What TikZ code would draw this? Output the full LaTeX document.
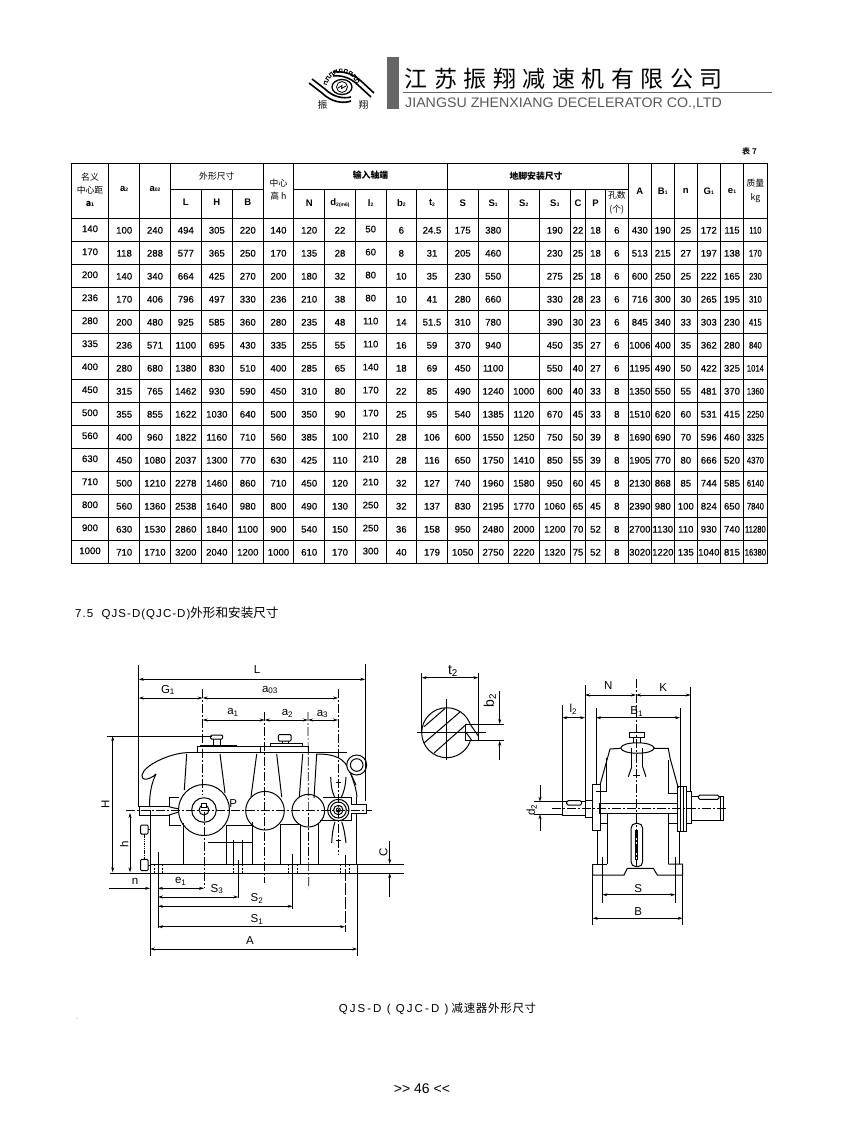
\documentclass[tikz,border=0pt]{standalone}
\usepackage{fontspec}
\setmainfont{Liberation Sans}
\newfontfamily\cjk{Noto Sans CJK SC}
\newfontfamily\cjkb{Noto Sans CJK SC Bold}
\newfontfamily\cellsf[FakeBold=0.35]{Liberation Sans}
\newfontfamily\widesf[LetterSpace=9]{Liberation Sans}
\newfontfamily\capsf[LetterSpace=18]{Liberation Sans}
\newfontfamily\widecjk[LetterSpace=6]{Noto Sans CJK SC}
\usetikzlibrary{arrows.meta}
\tikzset{
    cell/.style={inner sep=0pt,font=\cellsf\fontsize{9.6}{10}\selectfont},
    col1/.style={yshift=1.5pt},
    col10/.style={yshift=1.2pt},
    col25/.style={xscale=.8},
    head/.style={inner sep=0pt,align=center,font=\fontsize{9.5}{12}\selectfont},
    chead/.style={inner sep=0pt,align=center,font=\cjk\fontsize{8.8}{13.5}\selectfont},
    part/.style={line width=1pt},
    thin/.style={line width=.7pt},
    center/.style={line width=.7pt,dash pattern=on 9pt off 2pt on 2pt off 2pt},
    dim/.style={line width=.7pt,{Stealth[length=5pt,width=3pt]}-{Stealth[length=5pt,width=3pt]}},
    dimto/.style={line width=.7pt,-{Stealth[length=5pt,width=3pt]}},
    label/.style={inner sep=0pt,font=\fontsize{11.5}{12}\selectfont},
}
\newcommand{\sub}[1]{\raisebox{-.5pt}{\fontsize{5}{5}\selectfont #1}}
\begin{document}
\begin{tikzpicture}[x=1pt,y=-1pt]
    \useasboundingbox[fill=white] (0,0) rectangle (846,1146);

    % letterhead
    \fill[black!60] (386.7,56.7) rectangle (398.7,109);
    \draw[black!60,line width=1.3pt] (403,92.7) -- (771.7,92.7);
    \foreach \ch [count=\i] in {江,苏,振,翔,减,速,机,有,限,公,司}
        \node[inner sep=0pt,font=\cjk\fontsize{23}{24}\selectfont] (title\i) at (416+\i*29.5-29.5,79) {\ch};
    \node[inner sep=0pt,anchor=west,text=black!65,xscale=1.03,font=\fontsize{13.8}{14}\selectfont] (subtitle) at (405,103.5) {JIANGSU ZHENXIANG DECELERATOR CO.,LTD};
    % logo
    \foreach \a in {-170,-152,...,-10}
        \draw[line width=.8pt] ([shift={(\a:15)}]341.7,87) -- ([shift={(\a:18)}]341.7,87) -- ([shift={(\a+9:18)}]341.7,87) -- ([shift={(\a+9:15)}]341.7,87) -- ([shift={(\a+18:15)}]341.7,87);
    \draw[line width=1.3pt] (342,87) ellipse (10 and 7.5);
    \draw[line width=.8pt] (342,87) circle (5.5);
    \draw[line width=.8pt] (338,88) -- (342,85.5) -- (341.5,88.5) -- (346,86);
    \draw[line width=1.6pt] (312,79) -- (325,89) .. controls (333,97) and (343,99) .. (351,97);
    \draw[line width=1.6pt] (309,83) -- (322,93) .. controls (331,102) and (343,104) .. (351,101);
    \draw[line width=1.6pt] (371,97) -- (358,85) .. controls (350,77) and (340,75) .. (333,76);
    \draw[line width=1.6pt] (374,93) -- (361,81) .. controls (353,73) and (341,71) .. (333,72);
    \node[inner sep=0pt,font=\cjk\fontsize{9.5}{10}\selectfont] (logoA) at (322.5,105) {振};
    \node[inner sep=0pt,font=\cjk\fontsize{9.5}{10}\selectfont] (logoB) at (363.5,105) {翔};
    \node[inner sep=0pt,font=\cjkb\fontsize{8}{8}\selectfont] (tabnr) at (749.5,151.5) {表 7};

    % table grid
    \foreach \y in {163.3,218.3,241.3,264.3,...,563.3}
        \draw[line width=1pt] (71,\y) -- (767.5,\y);
    \draw[line width=1pt] (170.3,189) -- (263.3,189);
    \draw[line width=1pt] (293.7,189) -- (628.3,189);
    \foreach \x in {71,108.7,139.7,170.3,263.3,293.7,447.3,628.3,651.3,674.3,697.3,720.3,743.7,767.5}
        \draw[line width=1pt] (\x,163.3) -- (\x,563.3);
    \foreach \x in {201.3,232.3,324.7,355.3,386,416.7,478,508.3,539.3,570.3,585.7,605.3}
        \draw[line width=1pt] (\x,189) -- (\x,563.3);

    % table columns
    \foreach \x [count=\c] in {90,124.2,155,185.8,216.8,247.8,278.5,309.2,340,370.7,401.3,432,462.7,493.2,523.8,554.8,578,595.5,616.8,639.8,662.8,685.8,708.8,732,755.4}
        \coordinate (col\c) at (\x,0);

    % table head
    \node[chead] (hA) at (90,190) {名义\\中心距\\[-1pt]\textbf{a\sub{1}}};
    \node[head] (hB) at (124.2,189) {\textbf{a\sub{2}}};
    \node[head] (hC) at (155,189) {\textbf{a\sub{02}}};
    \node[chead] (hD) at (216.8,176) {外形尺寸};
    \node[head] (hE) at (185.8,202) {\textbf{L}};
    \node[head] (hF) at (216.8,202) {\textbf{H}};
    \node[head] (hG) at (247.8,202) {\textbf{B}};
    \node[chead] (hH) at (278.5,189.5) {中心\\高 h};
    \node[chead] (hI) at (370.5,175.5) {\textbf{输入轴端}};
    \node[head] (hJ) at (309.2,203) {\textbf{N}};
    \node[head] (hK) at (340,203) {\textbf{d\sub{2(m6)}}};
    \node[head] (hL) at (370.7,203) {\textbf{l\sub{2}}};
    \node[head] (hM) at (401.3,203) {\textbf{b\sub{2}}};
    \node[head] (hN) at (432,203) {\textbf{t\sub{2}}};
    \node[chead] (hO) at (536,176) {\textbf{地脚安装尺寸}};
    \node[head] (hP) at (462.7,203) {\textbf{S}};
    \node[head] (hQ) at (493.2,203) {\textbf{S\sub{1}}};
    \node[head] (hR) at (523.8,203) {\textbf{S\sub{2}}};
    \node[head] (hS) at (554.8,203) {\textbf{S\sub{3}}};
    \node[head] (hT) at (578,203) {\textbf{C}};
    \node[head] (hU) at (595.5,203) {\textbf{P}};
    \node[chead] (hV) at (616.8,202.5) {孔数\\(个)};
    \node[head] (hW) at (639.8,191) {\textbf{A}};
    \node[head] (hX) at (662.8,191) {\textbf{B\sub{1}}};
    \node[head] (hY) at (685.8,191) {\textbf{n}};
    \node[head] (hZ) at (708.8,191) {\textbf{G\sub{1}}};
    \node[head] (hAA) at (732,191) {\textbf{e\sub{1}}};
    \node[chead] (hAB) at (755.4,191) {质量\\kg};

    % table body
    \foreach \row [count=\r] in {
        {140,100,240,494,305,220,140,120,22,50,6,24.5,175,380,,190,22,18,6,430,190,25,172,115,110},
        {170,118,288,577,365,250,170,135,28,60,8,31,205,460,,230,25,18,6,513,215,27,197,138,170},
        {200,140,340,664,425,270,200,180,32,80,10,35,230,550,,275,25,18,6,600,250,25,222,165,230},
        {236,170,406,796,497,330,236,210,38,80,10,41,280,660,,330,28,23,6,716,300,30,265,195,310},
        {280,200,480,925,585,360,280,235,48,110,14,51.5,310,780,,390,30,23,6,845,340,33,303,230,415},
        {335,236,571,1100,695,430,335,255,55,110,16,59,370,940,,450,35,27,6,1006,400,35,362,280,840},
        {400,280,680,1380,830,510,400,285,65,140,18,69,450,1100,,550,40,27,6,1195,490,50,422,325,1014},
        {450,315,765,1462,930,590,450,310,80,170,22,85,490,1240,1000,600,40,33,8,1350,550,55,481,370,1360},
        {500,355,855,1622,1030,640,500,350,90,170,25,95,540,1385,1120,670,45,33,8,1510,620,60,531,415,2250},
        {560,400,960,1822,1160,710,560,385,100,210,28,106,600,1550,1250,750,50,39,8,1690,690,70,596,460,3325},
        {630,450,1080,2037,1300,770,630,425,110,210,28,116,650,1750,1410,850,55,39,8,1905,770,80,666,520,4370},
        {710,500,1210,2278,1460,860,710,450,120,210,32,127,740,1960,1580,950,60,45,8,2130,868,85,744,585,6140},
        {800,560,1360,2538,1640,980,800,490,130,250,32,137,830,2195,1770,1060,65,45,8,2390,980,100,824,650,7840},
        {900,630,1530,2860,1840,1100,900,540,150,250,36,158,950,2480,2000,1200,70,52,8,2700,1130,110,930,740,11280},
        {1000,710,1710,3200,2040,1200,1000,610,170,300,40,179,1050,2750,2220,1320,75,52,8,3020,1220,135,1040,815,16380}}
        \foreach \val [count=\c] in \row
            \node[cell,col\c/.try] (cell\r-\c) at (col\c |- 0,207.3+\r*23) {\val};

    \node[inner sep=0pt,anchor=west,font=\fontsize{11.5}{13}\selectfont] (secttl) at (75,613) {{\widesf 7.5\ \ QJS-D(QJC-D)}{\cjk\fontsize{12.6}{13}\selectfont 外形和安装尺寸}};

    % front view, housing
    \draw[part] (197.3,752.7) -- (197.3,746.7) -- (308,746.7) -- (308,752.7);
    \draw[part] (260.7,746.7) -- (260.7,752.7);
    \draw[part] (200,746.7) -- (200,745) -- (236,745) -- (236,746.7);
    \draw[part] (270,746.7) -- (270,743.3) -- (302.7,743.3) -- (302.7,746.7);
    \draw[part,rounded corners=1pt] (210.7,735) rectangle (222.7,739);
    \draw[part] (213.5,739) -- (213.5,745) (220,739) -- (220,745);
    \draw[part,rounded corners=1pt] (278.3,734.7) rectangle (291,741);
    \draw[part] (282,741) -- (282,743.3) (288,741) -- (288,743.3);
    \draw[part] (186,752.7) -- (347,752.7);
    \draw[part] (186,752.7) .. controls (170,753.5) and (144,765) .. (142,775) .. controls (141.5,780) and (146,780) .. (150,778) .. controls (153,777) and (155,775) .. (156,774);
    \draw[part] (156,774) .. controls (152,782) and (149.5,792) .. (149.5,806.7);
    \draw[part] (150,815) -- (150,864);
    \draw[part] (186.7,754) -- (184.3,790);
    \draw[part] (220,754) -- (225,793);
    \draw[part] (256.7,754) -- (251,797);
    \draw[part] (276.7,754) -- (281.7,797);
    \draw[part] (302.7,754) -- (299.3,797);
    \draw[part] (316.7,754) -- (314,798);
    \draw[part] (316.7,754) .. controls (335,754) and (345,758) .. (350,772) .. controls (353,780) and (356,787) .. (357,797);
    \draw[part] (350,772) -- (356,785);
    \draw[part,fill=white] (356.7,765) circle (10);
    \draw[part] (356.7,765) circle (6.3);
    % front view, shafts and wheels
    \draw[part] (139,806.7) -- (169,806.7) (139,815) -- (169,815) (139,806.7) -- (139,815);
    \draw[part] (169,806.7) -- (169,797.7) -- (179,797.7) (169,815) -- (169,825) -- (181,825);
    \draw[part] (169,806.7) .. controls (172,808) and (176,808) .. (178.5,809) (169,815) .. controls (172,814) and (176,813) .. (178.5,812);
    \draw[part,fill=white] (204,810) circle (25.5);
    \draw[part] (204,810) circle (12.3);
    \draw[part] (204,810) circle (5);
    \draw[part,fill=white] (201.5,803) rectangle (206.5,807.5);
    \draw[part] (265,810.7) circle (19.3);
    \draw[part] (308.3,810.7) circle (16.3);
    \draw[part] (338.3,810) circle (10.7);
    \draw[part] (338.3,810) circle (8);
    \draw[part] (338.3,810) circle (4.7);
    \draw[part] (338.3,810) circle (2);
    \draw[part] (323,797.7) -- (351.7,797.7) (320,820.7) -- (351.7,820.7);
    \draw[part] (351.7,797.7) -- (351.7,804.7) -- (366,804.7) -- (366,813) -- (351.7,813) -- (351.7,820.7);
    \draw[part] (356.7,797) -- (356.7,804.7) (356.7,813) -- (356.7,864);
    % front view, lower part
    \draw[part] (183.3,830) -- (183.3,864);
    \draw[part] (226,825) -- (226,864) (226,825) -- (252.3,825) (252.3,822) -- (252.3,864);
    \draw[part] (280.7,824) -- (280.7,864) (280.7,824) -- (300,824) (300,824) -- (300,864) (318.3,824) -- (318.3,864);
    \draw[part] (208,842.7) -- (252.3,842.7);
    \draw[thin] (233.3,840) -- (233.3,864) (242,840) -- (242,864);
    \draw[part] (150,864) -- (404,864);
    \draw[part] (110,873) -- (404,873);
    \foreach \x in {154,162.7,233.3,242,288,297.3,340,349.3}
        \draw[thin,dashed,dash pattern=on 2pt off 1.5pt] (\x,864) -- (\x,873);
    % front view, oil gauge and bearing cap
    \draw[part,rounded corners=1pt] (140.7,825) rectangle (148,834);
    \draw[part,rounded corners=1pt] (140.7,859.3) rectangle (148,870.7);
    \draw[line width=1.8pt,dash pattern=on 1.5pt off .8pt] (144.5,834) -- (144.5,859.3);
    \draw[part] (148,829) -- (150,829) (148,865) -- (150,865);
    \draw[part] (330.7,777) .. controls (331,786) and (332,792) .. (335,798);
    \draw[part] (346,777) .. controls (345.5,786) and (344,792) .. (341,798);
    \draw[part] (335,821.7) .. controls (333,828) and (332,835) .. (331.7,843);
    \draw[part] (341.7,821.7) .. controls (344,828) and (345,835) .. (346,843);
    \draw[part] (336,782) -- (341,782) (336,840) -- (341,840);
    \draw[part] (183.3,823) -- (183.3,830);

    % front view, centre lines
    \draw[center] (202.7,689) -- (202.7,795);
    \draw[center] (204,812) -- (204,888.3);
    \draw[center] (264.7,712) -- (264.7,883);
    \draw[center] (308,712) -- (308.7,888);
    \draw[center] (338,689) -- (338,855);
    \draw[center] (125.7,810.7) -- (371.7,810.7);

    % front view, dimensions
    \coordinate (Lstart) at (138.7,679.3);
    \coordinate (Lend) at (365.3,679.3);
    \coordinate (Gstart) at (138.7,698);
    \coordinate (Gend) at (202.7,698);
    \coordinate (Aostart) at (202.7,698);
    \coordinate (Aoend) at (338,698);
    \coordinate (Aa) at (202.7,720);
    \coordinate (Ab) at (264.7,720);
    \coordinate (Ac) at (308,720);
    \coordinate (Ad) at (338,720);
    \draw[thin] (138.7,665) -- (138.7,806.7);
    \draw[thin] (365.3,664) -- (365.3,801);
    \draw[dim] (Lstart) -- (Lend);
    \draw[dim] (Gstart) -- (Gend);
    \draw[dim] (Aostart) -- (Aoend);
    \draw[dim] (Aa) -- (Ab);
    \draw[dim] (Ab) -- (Ac);
    \draw[dim] (Ac) -- (Ad);
    \node[label] (lblL) at (257,670) {L};
    \node[label] (lblGa) at (168,690) {G\textsubscript{1}};
    \node[label] (lblAo) at (270,690) {a\textsubscript{03}};
    \node[label] (lblAa) at (233,712.5) {a\textsubscript{1}};
    \node[label] (lblAb) at (287.5,713) {a\textsubscript{2}};
    \node[label] (lblAc) at (322.5,714) {a\textsubscript{3}};
    \node[label] (lblP) at (233.3,804) {P};

    \coordinate (Htop) at (112.7,736);
    \coordinate (Hbot) at (112.7,872.3);
    \coordinate (htop) at (130,813);
    \coordinate (hbot) at (130,872.3);
    \draw[thin] (107,736) -- (211.7,736);
    \draw[dim] (Htop) -- (Hbot);
    \draw[dim] (htop) -- (hbot);
    \node[label,rotate=90] (lblH) at (105.5,804) {H};
    \node[label,rotate=90] (lblh) at (124.3,844.3) {h};

    \coordinate (Ca) at (389.7,864);
    \coordinate (Cb) at (389.7,873);
    \coordinate (Cup) at (389.7,840.7);
    \coordinate (Cdn) at (389.7,896.7);
    \draw[dimto] (Cup) -- (Ca);
    \draw[dimto] (Cdn) -- (Cb);
    \node[label,rotate=90] (lblC) at (383.3,852.3) {C};

    \draw[thin] (150,810) -- (150,956);
    \draw[thin] (158,851.7) -- (158,928);
    \draw[thin] (238.3,860) -- (238.3,898);
    \draw[thin] (292.7,854) -- (292.7,909);
    \draw[thin,dashed,dash pattern=on 12pt off 2pt] (345,855) -- (345,931.7);
    \draw[thin] (357.3,864) -- (357.3,956);
    \coordinate (nstart) at (109.3,888.3);
    \coordinate (nend) at (150,888.3);
    \coordinate (eA) at (158,888.3);
    \coordinate (eB) at (204,888.3);
    \coordinate (SthreeA) at (158,897);
    \coordinate (SthreeB) at (238.3,897);
    \coordinate (StwoA) at (158,906.3);
    \coordinate (StwoB) at (292.7,906.3);
    \coordinate (SoneA) at (158,926.7);
    \coordinate (SoneB) at (345,926.7);
    \coordinate (AA) at (150,949);
    \coordinate (AB) at (357.3,949);
    \draw[dimto] (nstart) -- (nend);
    \draw[dim] (eA) -- (eB);
    \draw[dim] (SthreeA) -- (SthreeB);
    \draw[dim] (StwoA) -- (StwoB);
    \draw[dim] (SoneA) -- (SoneB);
    \draw[dim] (AA) -- (AB);
    \node[label] (lbln) at (135,881.5) {n};
    \node[label] (lblea) at (180.7,881) {e\textsubscript{1}};
    \node[label] (lblSc) at (217,889) {S\textsubscript{3}};
    \node[label] (lblSb) at (257,898.5) {S\textsubscript{2}};
    \node[label] (lblSa) at (257,919.5) {S\textsubscript{1}};
    \node[label] (lblA) at (250,941) {A};

    % shaft section
    \begin{scope}
        \clip (421,707) rectangle (478.3,758);
        \draw[part] (446.7,732.7) circle (25);
    \end{scope}
    \draw[part] (424,726.7) -- (445,708.5);
    \draw[part] (424,743) -- (460,712);
    \draw[part] (434,753) -- (466.7,724);
    \fill[white] (465.5,724.5) rectangle (477.8,740.2);
    \draw[part] (465,724) -- (478.3,724) (478.3,724) -- (478.3,740.7) -- (465,740.7) -- (465,724);
    \draw[part] (465,731) -- (472,740.7);
    \draw[part] (470,724) -- (478.3,736);
    \draw[thin] (417.3,732.7) -- (485.7,732.7);
    \draw[thin] (446.7,699.3) -- (446.7,760);
    \draw[thin] (421.7,673) -- (421.7,732.7);
    \draw[thin] (478.3,673) -- (478.3,740.7);
    \draw[thin] (478.3,724) -- (504.3,724);
    \draw[thin] (478.3,740.7) -- (504.3,740.7);
    \coordinate (tA) at (421.7,677.7);
    \coordinate (tB) at (478.3,677.7);
    \coordinate (bA) at (499.7,724);
    \coordinate (bB) at (499.7,740.7);
    \coordinate (bAup) at (499.7,691);
    \coordinate (bBdn) at (499.7,760);
    \draw[dim] (tA) -- (tB);
    \draw[dimto] (bAup) -- (bA);
    \draw[dimto] (bBdn) -- (bB);
    \node[inner sep=0pt,font=\fontsize{14}{14}\selectfont] (lblt) at (453,671) {t\textsubscript{2}};
    \node[inner sep=0pt,rotate=90,font=\fontsize{14}{14}\selectfont] (lblb) at (490,700.7) {b\textsubscript{2}};

    % side view, housing
    \draw[part] (629.3,732.3) rectangle (644,737.3);
    \draw[part] (633.3,737.3) -- (633.3,742.7) (640,737.3) -- (640,742.7);
    \draw[part] (620.7,748) .. controls (622,741) and (652,741) .. (654.3,748) .. controls (653,755) and (622,755) .. (620.7,748);
    \draw[part] (620.7,748.3) -- (610,749) -- (607.5,758) -- (600,785);
    \draw[part] (654.3,748.3) -- (668.3,748.3) -- (670,758) -- (678.3,788);
    \draw[part] (606.7,758) -- (606.7,791.7);
    \draw[part] (668.3,760) -- (668.3,793.3);
    \draw[part] (631.7,748.3) -- (631.7,767) (642.7,748.3) -- (642.7,767);
    \draw[part] (631.7,767) -- (628.3,776.7) (642.7,767) -- (646,776.7);
    \draw[part] (633.3,775) -- (640,775);
    \draw[part] (596,791.7) -- (606.7,791.7) (668.3,793.3) -- (677.3,793.3);
    \draw[part] (592.7,784) rectangle (600,830);
    \draw[part] (585,800) rectangle (592.7,817.3);
    \draw[part] (562.3,801.7) -- (585,801.7) (562.3,815) -- (585,815) (562.3,801.7) -- (562.3,815);
    \draw[part,rounded corners=1.5pt,fill=white] (566.7,800.7) rectangle (581.7,805);
    \draw[line width=1.2pt] (600,803.3) rectangle (677.3,813.3);
    \draw[part] (597.3,830) -- (597.3,864);
    \draw[part] (600,823.3) -- (607.3,823.3);
    \draw[part] (607.3,813.3) -- (607.3,864);
    \draw[part] (668.3,813.3) -- (668.3,864);
    \draw[part] (679.3,831.7) -- (679.3,864);
    \draw[part] (668.3,823.3) -- (677.3,823.3);
    \draw[part] (677.3,786.7) rectangle (686,831.7);
    \draw[thin] (680.7,786.7) -- (680.7,831.7) (683.3,786.7) -- (683.3,831.7);
    \draw[part] (686,791.7) rectangle (691.7,823.3);
    \draw[part] (691.7,796) -- (723.3,796) -- (723.3,820) -- (691.7,820);
    \draw[part] (720,796) -- (720,820);
    \draw[part,rounded corners=1.5pt,fill=white] (698.3,795) rectangle (719,799.3);
    \draw[part,rounded corners=5pt] (631,823.3) rectangle (642.7,866.7);
    \draw[thin] (635.7,830) -- (635.7,860) (637.7,830) -- (637.7,860);
    \draw[part] (592.7,864) -- (592.7,875) -- (624,875) -- (627.3,868.3) -- (653.3,868.3) -- (657.3,875) -- (682.7,875) -- (682.7,864) -- (668.3,864);
    \draw[part] (592.7,864) -- (607.3,864);

    % side view, centre lines
    \draw[center] (636,679) -- (636,866);
    \draw[center] (552.3,808.3) -- (726,808.3);

    % side view, dimensions
    \draw[thin] (585,685) -- (585,801.7);
    \draw[thin] (690.7,686.7) -- (690.7,791.7);
    \draw[thin] (562.3,705) -- (562.3,801.7);
    \draw[thin] (596,708.3) -- (596,785);
    \draw[thin] (680,708.3) -- (680,788);
    \draw[thin] (534,801.7) -- (562.3,801.7);
    \draw[thin] (534,814.3) -- (562.3,814.3);
    \draw[thin] (602.3,856.7) -- (602.3,903.3);
    \draw[thin] (675.3,856.7) -- (675.3,903.3);
    \draw[thin] (592.7,864) -- (592.7,925);
    \draw[thin] (682.7,864) -- (682.7,925);
    \coordinate (Na) at (585,695);
    \coordinate (Nb) at (636,695);
    \coordinate (Kb) at (690.7,695);
    \coordinate (la) at (562.3,717.7);
    \coordinate (lb) at (585,717.7);
    \coordinate (Ba) at (596,717.7);
    \coordinate (Bb) at (680,717.7);
    \coordinate (Sa) at (602.3,894.7);
    \coordinate (Sb) at (675.3,894.7);
    \coordinate (Wa) at (592.7,918.3);
    \coordinate (Wb) at (682.7,918.3);
    \coordinate (dA) at (540,801.7);
    \coordinate (dB) at (540,814.3);
    \coordinate (dAup) at (540,785);
    \coordinate (dBdn) at (540,830.7);
    \draw[dim] (Na) -- (Nb);
    \draw[dim] (Nb) -- (Kb);
    \draw[dim] (la) -- (lb);
    \draw[dim] (Ba) -- (Bb);
    \draw[dim] (Sa) -- (Sb);
    \draw[dim] (Wa) -- (Wb);
    \draw[dimto] (dAup) -- (dA);
    \draw[dimto] (dBdn) -- (dB);
    \node[label] (lblN) at (608.3,686) {N};
    \node[label] (lblK) at (663.3,687.3) {K};
    \node[label] (lbll) at (573.3,709) {l\textsubscript{2}};
    \node[label] (lblB) at (636.7,711.7) {B\textsubscript{1}};
    \node[label] (lblS) at (638.3,889) {S};
    \node[label] (lblW) at (638.3,911.7) {B};
    \node[label,rotate=90] (lbld) at (531.7,810) {d\textsubscript{2}};

    % caption and page number
    \node[inner sep=0pt,font=\fontsize{11.5}{12}\selectfont] (caption) at (437.5,1009) {{\capsf QJS-D ( QJC-D )} {\widecjk 减速器外形尺寸}};
    \node[inner sep=0pt,font=\fontsize{14}{14}\selectfont] (pagenr) at (422,1088.5) {>{}> 46 <{}<};
    \fill[black!50] (77,1018) circle (.5);
\end{tikzpicture}
\end{document}
